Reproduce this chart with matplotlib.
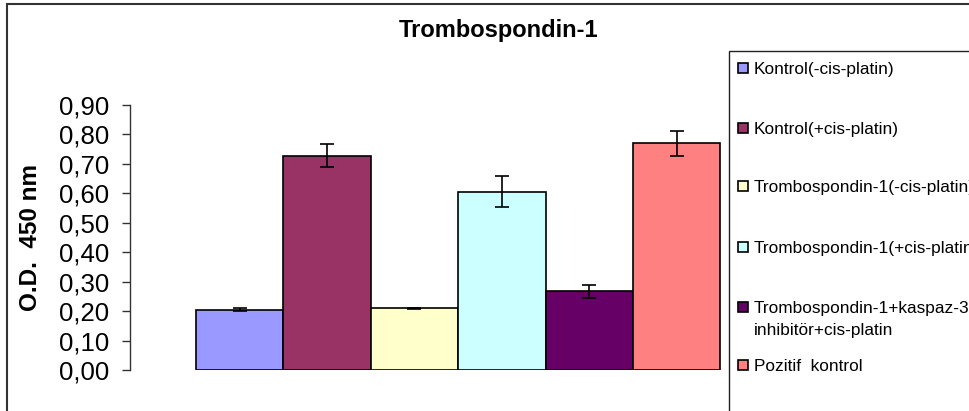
import matplotlib
matplotlib.use("Agg")
import matplotlib.pyplot as plt
from matplotlib.patches import Rectangle

plt.rcParams['font.family'] = ['Liberation Sans', 'DejaVu Sans']

# data
labels = [
    "Kontrol(-cis-platin)",
    "Kontrol(+cis-platin)",
    "Trombospondin-1(-cis-platin)",
    "Trombospondin-1(+cis-platin)",
    "Trombospondin-1+kaspaz-3\ninhibitör+cis-platin",
    "Pozitif  kontrol",
]
values = [0.204, 0.728, 0.209, 0.605, 0.267, 0.770]
errors = [0.005, 0.038, 0.003, 0.053, 0.023, 0.042]
colors = ["#9999FF", "#993366", "#FFFFCC", "#CCFFFF", "#660066", "#FF8080"]
yticks = [0.0, 0.1, 0.2, 0.3, 0.4, 0.5, 0.6, 0.7, 0.8, 0.9]

W, H = 970, 411
fig = plt.figure(figsize=(W / 100, H / 100), dpi=100)

# axes placed in pixel terms: y axis at x=130, 0.00 at y=370, 0.90 at y=105
ax = fig.add_axes([130 / W, (H - 370) / H, (725 - 130) / W, (370 - 105) / H])

for i, (v, e, c) in enumerate(zip(values, errors, colors)):
    ax.bar(i, v, width=1.0, color=c, edgecolor="black", linewidth=1.2, zorder=2)
    ax.errorbar(i, v, yerr=e, color="black", capsize=5, elinewidth=1.2,
                capthick=1.2, zorder=3)

ax.set_ylim(0, 0.9)
ax.set_xlim(-1.255, 5.553)
ax.set_yticks(yticks)
ax.set_yticklabels([f"{t:.2f}".replace(".", ",") for t in yticks], fontsize=18.5)
ax.tick_params(axis="y", direction="out", length=6, width=1, pad=9, color="#333333")
ax.set_xticks([])
for s in ["top", "right", "bottom"]:
    ax.spines[s].set_visible(False)
ax.spines["left"].set_color("#333333")
ax.spines["left"].set_linewidth(1)
ax.set_ylabel("O.D.  450 nm", fontsize=17.5, fontweight="bold")
ax.yaxis.set_label_coords(-0.148, 0.5)

fig.text(499 / W, 1 - 30 / H, "Trombospondin-1", fontsize=17, fontweight="bold",
         ha="center", va="center")

# outer chart border (right and bottom fall off the image)
fig.patches.append(Rectangle((7 / W, -0.2), 1.2, 1.2 - 4 / H, transform=fig.transFigure,
                             fill=False, edgecolor="#333333", linewidth=1.5))

# legend box (also runs off the image)
fig.patches.append(Rectangle((729 / W, -0.2), 0.5, 1.2 - 51 / H, transform=fig.transFigure,
                             fill=False, edgecolor="#222222", linewidth=1.0))

legend_y = [68, 128, 186, 247, 307, 365]
for lab, c, y in zip(labels, colors, legend_y):
    fig.patches.append(Rectangle((738 / W, 1 - (y + 5) / H), 10 / W, 10 / H,
                                 transform=fig.transFigure, facecolor=c,
                                 edgecolor="black", linewidth=1.2))
    first, _, rest = lab.partition("\n")
    fig.text(754 / W, 1 - (y + 6) / H, first, fontsize=12.4, ha="left", va="baseline")
    if rest:
        fig.text(754 / W, 1 - (y + 28) / H, rest, fontsize=12.4, ha="left",
                 va="baseline")

fig.savefig("out.png", dpi=100)
